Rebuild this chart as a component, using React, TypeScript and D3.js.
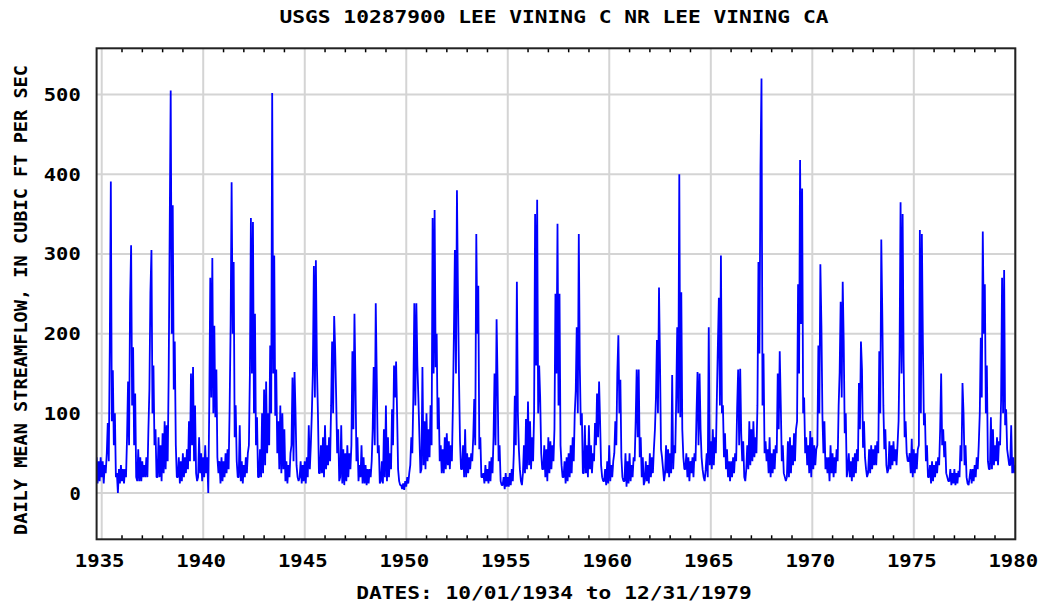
import React from 'react';
import * as d3 from 'd3';

// daily mean streamflow (cfs), read off the plot about every 18 days,
// counted from Oct 1 of each water year
const sampleDays = [0, 18, 37, 55, 73, 91, 110, 128, 146, 164, 183, 201, 219, 237, 256, 274, 292, 310, 329, 347];

const wy1935 = [45, 12, 40, 15, 45, 20, 40, 12, 35, 25, 50, 88, 40, 183, 391, 90, 154, 60, 100, 20];
const wy1936 = [25, 0, 30, 12, 35, 15, 30, 12, 30, 20, 70, 140, 60, 238, 311, 110, 183, 60, 125, 20];
const wy1937 = [15, 55, 15, 45, 15, 40, 20, 35, 20, 45, 20, 80, 130, 251, 305, 100, 160, 60, 80, 20];
const wy1938 = [20, 70, 20, 60, 15, 75, 25, 90, 30, 85, 40, 150, 330, 505, 200, 361, 130, 190, 60, 20];
const wy1939 = [20, 45, 12, 40, 15, 50, 20, 45, 25, 55, 30, 90, 40, 150, 60, 158, 40, 110, 25, 15];
const wy1940 = [20, 70, 25, 50, 15, 45, 20, 60, 25, 45, 0, 110, 270, 120, 295, 100, 210, 95, 155, 45];
const wy1941 = [25, 40, 12, 45, 15, 40, 20, 50, 25, 55, 30, 105, 210, 390, 200, 290, 70, 110, 40, 20];
const wy1942 = [20, 85, 15, 40, 12, 35, 20, 45, 25, 50, 60, 150, 345, 150, 340, 100, 225, 60, 95, 20];
const wy1943 = [20, 55, 20, 100, 25, 130, 35, 140, 50, 100, 60, 185, 100, 502, 150, 298, 97, 155, 50, 90];
const wy1944 = [30, 110, 25, 100, 30, 80, 15, 40, 12, 35, 20, 50, 60, 145, 40, 152, 100, 35, 20, 15];
const wy1945 = [20, 40, 12, 35, 15, 40, 12, 45, 20, 85, 30, 60, 100, 150, 285, 120, 292, 163, 100, 25];
const wy1946 = [25, 60, 25, 70, 20, 85, 30, 60, 35, 70, 40, 110, 190, 100, 222, 180, 120, 50, 80, 15];
const wy1947 = [20, 85, 12, 55, 10, 50, 15, 60, 20, 50, 30, 60, 178, 80, 225, 140, 40, 70, 15, 35];
const wy1948 = [20, 60, 12, 45, 12, 35, 10, 30, 12, 30, 20, 40, 80, 158, 60, 238, 145, 50, 60, 12];
const wy1949 = [15, 40, 12, 80, 20, 110, 15, 70, 20, 50, 30, 105, 60, 160, 120, 165, 100, 30, 15, 10];
const wy1950 = [10, 5, 12, 4, 15, 8, 20, 12, 25, 35, 70, 50, 120, 238, 110, 238, 160, 120, 70, 25];
const wy1951 = [30, 158, 35, 90, 30, 100, 40, 80, 45, 110, 60, 345, 150, 355, 158, 200, 80, 120, 40, 60];
const wy1952 = [25, 55, 25, 70, 30, 75, 35, 65, 30, 60, 40, 110, 200, 305, 150, 380, 250, 148, 65, 30];
const wy1953 = [30, 60, 20, 80, 20, 50, 25, 45, 30, 50, 40, 70, 118, 60, 325, 200, 260, 55, 70, 20];
const wy1954 = [20, 25, 12, 35, 15, 30, 12, 40, 15, 45, 25, 70, 150, 60, 218, 140, 40, 60, 15, 10];
const wy1955 = [10, 20, 5, 25, 8, 20, 8, 25, 10, 30, 15, 50, 122, 60, 265, 100, 55, 30, 15, 10];
const wy1956 = [25, 60, 25, 93, 30, 115, 35, 90, 30, 70, 40, 100, 350, 160, 368, 100, 160, 120, 50, 30];
const wy1957 = [30, 60, 20, 55, 15, 70, 25, 65, 30, 60, 40, 80, 250, 150, 338, 110, 250, 60, 35, 20];
const wy1958 = [20, 40, 12, 45, 15, 50, 20, 60, 25, 70, 40, 100, 128, 208, 100, 325, 160, 85, 100, 25];
const wy1959 = [25, 85, 25, 60, 20, 85, 30, 60, 25, 50, 40, 88, 60, 125, 70, 140, 90, 35, 20, 15];
const wy1960 = [15, 30, 10, 40, 12, 60, 15, 35, 20, 40, 50, 90, 60, 150, 198, 100, 142, 45, 20, 15];
const wy1961 = [15, 50, 8, 40, 12, 50, 15, 35, 20, 45, 40, 90, 155, 70, 155, 45, 70, 20, 45, 10];
const wy1962 = [15, 40, 15, 35, 12, 50, 20, 45, 25, 55, 80, 120, 192, 100, 258, 163, 55, 45, 30, 15];
const wy1963 = [25, 60, 25, 55, 20, 50, 25, 148, 30, 60, 50, 120, 208, 100, 400, 95, 252, 80, 45, 30];
const wy1964 = [30, 50, 20, 45, 15, 40, 25, 45, 20, 50, 40, 100, 152, 60, 150, 80, 45, 30, 20, 15];
const wy1965 = [30, 50, 20, 208, 35, 65, 30, 80, 35, 70, 50, 120, 185, 245, 110, 298, 100, 110, 45, 75];
const wy1966 = [30, 55, 20, 40, 15, 40, 20, 45, 25, 50, 40, 108, 155, 60, 156, 75, 40, 65, 20, 15];
const wy1967 = [30, 60, 30, 90, 35, 80, 40, 90, 45, 70, 50, 110, 290, 175, 410, 520, 110, 175, 50, 65];
const wy1968 = [40, 55, 25, 70, 20, 50, 25, 55, 30, 60, 50, 150, 80, 178, 110, 40, 60, 25, 20, 15];
const wy1969 = [20, 65, 20, 70, 25, 60, 35, 75, 40, 80, 90, 262, 150, 418, 212, 382, 100, 120, 50, 70];
const wy1970 = [35, 60, 25, 78, 20, 70, 30, 60, 35, 55, 60, 185, 100, 287, 210, 97, 50, 90, 30, 45];
const wy1971 = [25, 45, 15, 60, 25, 50, 20, 45, 25, 55, 40, 110, 152, 240, 120, 265, 190, 75, 100, 20];
const wy1972 = [30, 50, 20, 40, 15, 45, 20, 50, 25, 55, 40, 138, 80, 190, 155, 57, 90, 45, 30, 20];
const wy1973 = [25, 55, 25, 60, 30, 55, 35, 60, 35, 65, 50, 178, 100, 318, 220, 110, 55, 80, 35, 25];
const wy1974 = [30, 65, 30, 60, 35, 65, 40, 55, 35, 60, 90, 178, 365, 150, 350, 165, 70, 90, 50, 40];
const wy1975 = [40, 50, 25, 68, 20, 55, 25, 50, 30, 55, 60, 330, 100, 325, 185, 85, 100, 40, 60, 20];
const wy1976 = [20, 35, 12, 40, 15, 35, 20, 40, 25, 45, 35, 80, 150, 60, 80, 45, 65, 25, 20, 15];
const wy1977 = [15, 30, 10, 25, 12, 30, 10, 25, 12, 28, 20, 60, 40, 138, 100, 35, 60, 20, 12, 10];
const wy1978 = [20, 30, 12, 30, 15, 35, 20, 45, 30, 60, 100, 195, 120, 328, 200, 262, 100, 160, 40, 30];
const wy1979 = [30, 95, 30, 80, 35, 60, 40, 70, 35, 65, 60, 115, 270, 100, 280, 85, 105, 55, 45, 35];
const wy1980 = [35, 85, 25, 45, 25, 35];

const seasons = [
  wy1935, wy1936, wy1937, wy1938, wy1939, wy1940, wy1941, wy1942, wy1943, wy1944,
  wy1945, wy1946, wy1947, wy1948, wy1949, wy1950, wy1951, wy1952, wy1953, wy1954,
  wy1955, wy1956, wy1957, wy1958, wy1959, wy1960, wy1961, wy1962, wy1963, wy1964,
  wy1965, wy1966, wy1967, wy1968, wy1969, wy1970, wy1971, wy1972, wy1973, wy1974,
  wy1975, wy1976, wy1977, wy1978, wy1979, wy1980,
];
const firstWaterYear = 1935;

const yTicks = [0, 100, 200, 300, 400, 500];
const yearLabels = [1935, 1940, 1945, 1950, 1955, 1960, 1965, 1970, 1975, 1980];

const title = 'USGS 10287900 LEE VINING C NR LEE VINING CA';
const yTitle = 'DAILY MEAN STREAMFLOW, IN CUBIC FT PER SEC';
const xTitle = 'DATES: 10/01/1934 to 12/31/1979';

const W = 1041;
const H = 603;
const plot = { left: 96.6, right: 1015.3, top: 48.3, bottom: 539.3 };
const FONT = '"DejaVu Sans Mono", "Liberation Mono", monospace';
const CHAR = 12.8;

function Mono({ x, y, text, anchor = 'middle', transform, len }: any) {
  return (
    <text
      x={x}
      y={y}
      transform={transform}
      textAnchor={anchor}
      fontFamily={FONT}
      fontWeight="bold"
      fontSize={17}
      fill="#000"
      textLength={len ?? text.length * CHAR - 1.5}
      lengthAdjust="spacingAndGlyphs"
    >
      {text}
    </text>
  );
}

export default function App() {
  const points = seasons.flatMap((vals, i) =>
    vals.map((v, k) => ({
      date: d3.timeDay.offset(new Date(firstWaterYear + i - 1, 9, 1), sampleDays[k]),
      value: v,
    }))
  );

  const x = d3
    .scaleTime()
    .domain([new Date(1934, 9, 1), new Date(1980, 0, 1)])
    .range([plot.left, plot.right]);
  const y = d3.scaleLinear().domain([-58, 558]).range([plot.bottom, plot.top]);

  const line = d3
    .line<{ date: Date; value: number }>()
    .x(d => x(d.date))
    .y(d => y(d.value));

  const minorYears = d3.range(1935, 1980).filter(yr => yr % 5 !== 0);

  return (
    <svg width={W} height={H} style={{ position: 'absolute', left: 0, top: 0, background: '#fff' }}>
      <defs>
        <clipPath id="plotClip">
          <rect x={plot.left} y={plot.top} width={plot.right - plot.left} height={plot.bottom - plot.top} />
        </clipPath>
      </defs>

      {/* grid */}
      <g stroke="#d4d4d4" strokeWidth={2}>
        {yTicks.map(t => (
          <line key={'h' + t} x1={plot.left} x2={plot.right} y1={y(t)} y2={y(t)} />
        ))}
        {yearLabels.map(yr => (
          <line key={'v' + yr} x1={x(new Date(yr, 0, 1))} x2={x(new Date(yr, 0, 1))} y1={plot.top} y2={plot.bottom} />
        ))}
      </g>

      <path
        d={line(points) ?? ''}
        fill="none"
        stroke="#0000ff"
        strokeWidth={1.8}
        strokeLinejoin="bevel"
        clipPath="url(#plotClip)"
      />

      {/* yearly ticks, inside the frame */}
      <g stroke="#000" strokeWidth={1.5}>
        {minorYears.map(yr => {
          const xx = x(new Date(yr, 0, 1));
          return (
            <g key={yr}>
              <line x1={xx} x2={xx} y1={plot.bottom} y2={plot.bottom - 4} />
              <line x1={xx} x2={xx} y1={plot.top} y2={plot.top + 4} />
            </g>
          );
        })}
      </g>

      <rect
        x={plot.left}
        y={plot.top}
        width={plot.right - plot.left}
        height={plot.bottom - plot.top}
        fill="none"
        stroke="#222"
        strokeWidth={2}
      />

      {yTicks.map(t => (
        <Mono key={t} x={80.7} y={y(t) + 6.5} text={String(t)} anchor="end" />
      ))}
      {yearLabels.map(yr => (
        <Mono key={yr} x={x(new Date(yr, 0, 1)) - 2} y={567} text={String(yr)} />
      ))}

      <Mono x={554} y={23} text={title} />
      <Mono x={554} y={599} text={xTitle} />
      <Mono x={0} y={0} text={yTitle} len={470} transform="translate(27,300) rotate(-90)" />
    </svg>
  );
}
